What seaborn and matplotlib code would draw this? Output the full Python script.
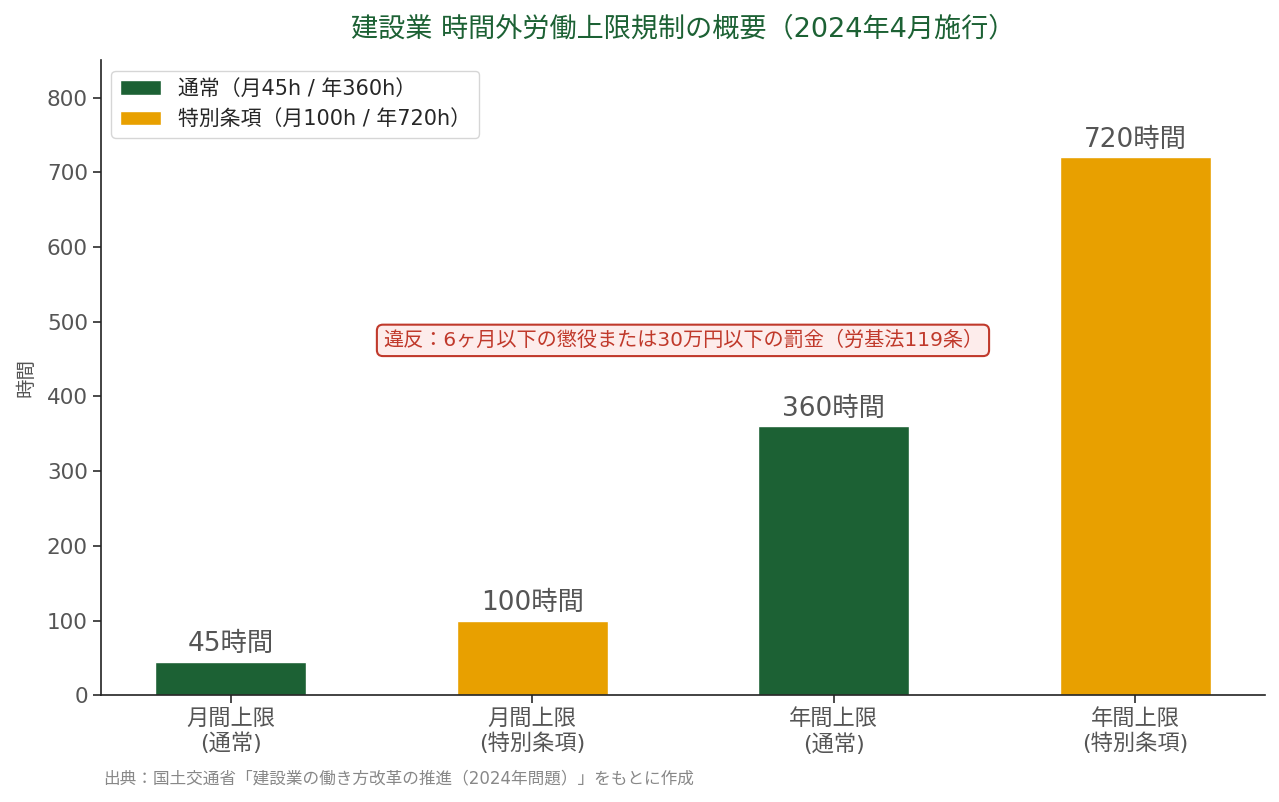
import matplotlib
matplotlib.use("Agg")
import matplotlib.pyplot as plt
import seaborn as sns
import pandas as pd

# Data
categories = ["月間上限\n(通常)", "月間上限\n(特別条項)", "年間上限\n(通常)", "年間上限\n(特別条項)"]
hours = [45, 100, 360, 720]
kinds = ["通常（月45h / 年360h）", "特別条項（月100h / 年720h）",
         "通常（月45h / 年360h）", "特別条項（月100h / 年720h）"]
value_labels = ["45時間", "100時間", "360時間", "720時間"]
palette = {"通常（月45h / 年360h）": "#1c6134", "特別条項（月100h / 年720h）": "#e8a000"}

df = pd.DataFrame({"category": categories, "hours": hours, "kind": kinds})

sns.set_theme(style="ticks")
plt.rcParams["font.family"] = ["DejaVu Sans", "Noto Sans CJK JP"]

fig, ax = plt.subplots(figsize=(12.79, 8.02), dpi=100)
sns.barplot(data=df, x="category", y="hours", hue="kind", palette=palette,
            dodge=False, width=0.5, saturation=1, ax=ax)

for i, (h, lab) in enumerate(zip(hours, value_labels)):
    ax.text(i, h + 6, lab, ha="center", va="bottom", fontsize=19, color="#555555")

ax.set_xlim(-0.43, 3.43)
ax.set_ylim(0, 850)
ax.set_xlabel("")
ax.set_ylabel("時間", fontsize=14, color="#555555", labelpad=8)
ax.tick_params(axis="both", labelsize=15.5, colors="#555555")
ax.tick_params(axis="x", labelsize=16)
ax.tick_params(axis="both", color="#333333")
for s in ["left", "bottom"]:
    ax.spines[s].set_color("#222222")
    ax.spines[s].set_linewidth(1.2)
sns.despine(ax=ax)

ax.set_title("建設業 時間外労働上限規制の概要（2024年4月施行）", fontsize=19.5,
             color="#1c6134", pad=17)

leg = ax.legend(loc="upper left", fontsize=15, frameon=True)
leg.set_title(None)

ax.text(1.5, 475, "違反：6ヶ月以下の懲役または30万円以下の罰金（労基法119条）",
        ha="center", va="center", fontsize=14.5, color="#c0392b",
        bbox=dict(boxstyle="round,pad=0.3", facecolor="#fdeceb", edgecolor="#c0392b", linewidth=1.5))

fig.text(0.081, 0.030, "出典：国土交通省「建設業の働き方改革の推進（2024年問題）」をもとに作成",
         fontsize=12, color="#888888", ha="left", va="center")

fig.subplots_adjust(left=0.079, right=0.989, top=0.925, bottom=0.133)
fig.savefig("out.png", dpi=100)
